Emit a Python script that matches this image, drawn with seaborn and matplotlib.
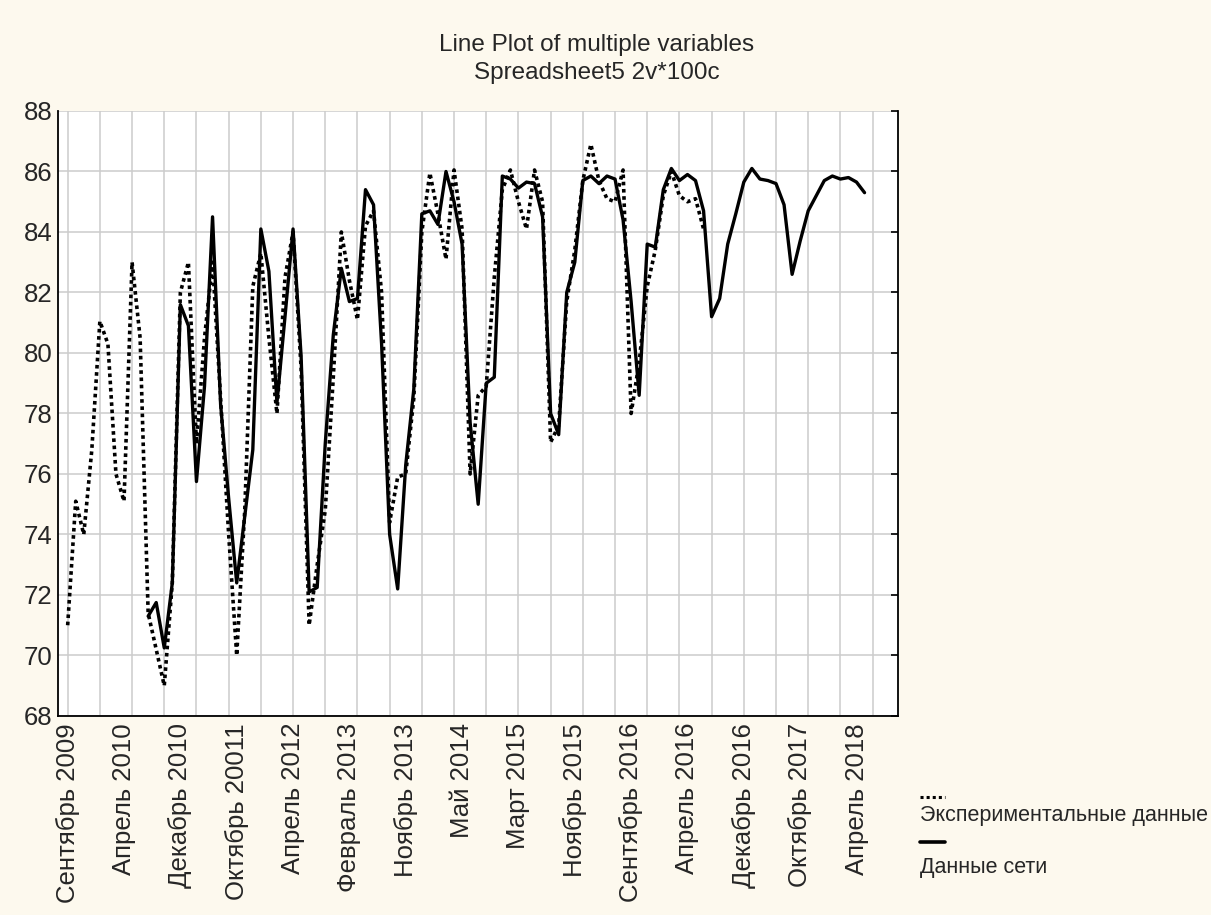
import numpy as np
import pandas as pd
import seaborn as sns
import matplotlib.pyplot as plt
from matplotlib.lines import Line2D

# Данные: номер наблюдения -> значение
exp_cases = np.arange(1, 81)
exp_values = [
    71.0, 75.1, 74.0, 76.8, 81.05, 80.3, 76.0, 75.1, 83.0, 80.5,
    71.4, 70.2, 69.0, 72.4, 82.0, 83.0, 77.0, 80.5, 83.0, 78.5,
    74.0, 70.0, 74.8, 82.2, 83.3, 80.5, 78.0, 82.5, 84.0, 79.5,
    71.0, 73.0, 74.8, 79.2, 84.0, 82.4, 81.1, 84.2, 84.7, 82.0,
    74.4, 75.9, 76.0, 78.5, 84.0, 85.95, 84.6, 83.1, 86.05, 84.1,
    76.0, 78.6, 78.9, 82.5, 85.4, 86.05, 85.0, 84.1, 86.05, 85.0,
    77.05, 77.6, 81.7, 83.4, 85.7, 86.9, 85.7, 85.1, 85.0, 86.05,
    78.0, 79.7, 82.2, 83.4, 85.2, 86.0, 85.2, 85.0, 85.1, 84.1,
]

net_cases = np.arange(11, 101)
net_values = [
    71.3, 71.75, 70.25, 72.4, 81.6, 80.9, 75.75, 78.9, 84.5, 78.3,
    75.2, 72.4, 74.6, 76.8, 84.1, 82.7, 78.35, 81.2, 84.1, 79.9,
    72.1, 72.25, 77.0, 80.6, 82.8, 81.7, 81.8, 85.4, 84.9, 80.3,
    74.0, 72.2, 76.3, 78.8, 84.6, 84.7, 84.25, 86.0, 85.0, 83.6,
    77.7, 75.0, 79.0, 79.2, 85.85, 85.75, 85.45, 85.65, 85.6, 84.5,
    78.0, 77.3, 82.0, 83.0, 85.7, 85.85, 85.6, 85.85, 85.75, 84.4,
    81.7, 78.6, 83.6, 83.5, 85.4, 86.1, 85.7, 85.9, 85.7, 84.7,
    81.2, 81.8, 83.6, 84.6, 85.65, 86.1, 85.75, 85.7, 85.6, 84.9,
    82.6, 83.7, 84.7, 85.2, 85.7, 85.85, 85.75, 85.8, 85.65, 85.3,
]

label_cases = [1, 8, 15, 22, 29, 36, 43, 50, 57, 64, 71, 78, 85, 92, 99]
tick_labels = [
    "Сентябрь 2009", "Апрель 2010", "Декабрь 2010", "Октябрь 20011",
    "Апрель 2012", "Февраль 2013", "Ноябрь 2013", "Май 2014", "Март 2015",
    "Ноябрь 2015", "Сентябрь 2016", "Апрель 2016", "Декабрь 2016",
    "Октябрь 2017", "Апрель 2018",
]
grid_cases = list(range(1, 102, 4))
y_ticks = list(range(68, 89, 2))

exp_name = "Экспериментальные данные"
net_name = "Данные сети"

sns.set_style("white")
plt.rcParams["font.family"] = ["Liberation Sans", "DejaVu Sans"]

bg = "#fdf9ee"
fig = plt.figure(figsize=(12.11, 9.15), dpi=100, facecolor=bg)
ax = fig.add_axes([0.0479, 0.2175, 0.6936, 0.6612])
ax.set_facecolor("white")

df_exp = pd.DataFrame({"case": exp_cases, "value": exp_values})
df_net = pd.DataFrame({"case": net_cases, "value": net_values})
sns.lineplot(data=df_exp, x="case", y="value", ax=ax, color="black",
             linestyle=(0, (1, 1)), linewidth=2.6)
sns.lineplot(data=df_net, x="case", y="value", ax=ax, color="black",
             linestyle="-", linewidth=2.4)

ax.set_xlim(-0.2, 104.15)
ax.set_ylim(68, 88)
# сетка через 4 наблюдения, подписи через 7 (как в Statistica)
ax.xaxis.remove_overlapping_locs = False
ax.set_xticks(grid_cases)
ax.set_xticklabels([])
ax.set_xticks(label_cases, minor=True)
ax.set_xticklabels(tick_labels, minor=True, rotation=90, fontsize=18.5)
ax.set_yticks(y_ticks)
ax.set_yticklabels([str(v) for v in y_ticks], fontsize=18.5)
ax.tick_params(axis="x", which="minor", length=0, pad=5)
ax.tick_params(axis="both", which="major", direction="in", length=5,
               width=1.2, color="black", right=True)
ax.tick_params(axis="y", pad=4)
ax.grid(True, which="major", color="#cccccc", linewidth=1.1)
ax.grid(False, which="minor")
ax.set_xlabel("")
ax.set_ylabel("")
for side in ["left", "bottom", "right", "top"]:
    ax.spines[side].set_color("black")
    ax.spines[side].set_linewidth(1.3)
ax.spines["top"].set_visible(False)

fig.text(597 / 1211, 1 - 45 / 915, "Line Plot of multiple variables",
         ha="center", va="center", fontsize=17.5)
fig.text(597 / 1211, 1 - 73 / 915, "Spreadsheet5 2v*100c",
         ha="center", va="center", fontsize=17.5)

# Легенда в стиле Statistica: образец линии над подписью
fig.add_artist(Line2D([920 / 1211, 945 / 1211], [1 - 797 / 915] * 2,
                      color="black", linestyle=(0, (1, 1)), linewidth=2.2))
fig.text(920 / 1211, 1 - 816 / 915, exp_name, ha="left", va="center",
         fontsize=15.5)
fig.add_artist(Line2D([920 / 1211, 945 / 1211], [1 - 842 / 915] * 2,
                      color="black", linestyle="-", linewidth=2.6))
fig.text(920 / 1211, 1 - 868 / 915, net_name, ha="left", va="center",
         fontsize=15.5)

fig.savefig("out.png", dpi=100, facecolor=bg)
